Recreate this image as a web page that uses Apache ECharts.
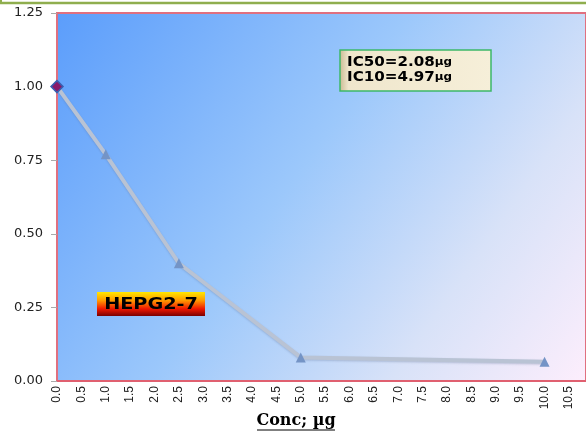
<!DOCTYPE html>
<html><head><meta charset="utf-8">
<script src="https://cdn.jsdelivr.net/npm/echarts@6/dist/echarts.min.js"></script>
<style>html,body{margin:0;padding:0;background:#fff}#c{width:586px;height:433px}</style>
</head><body><div id="c"></div>
<script>
const concX = [0, 1, 2.5, 5, 10];
const viability = [1.00, 0.77, 0.40, 0.08, 0.065];
const yTicks = [0, 0.25, 0.5, 0.75, 1.0, 1.25];
const xAxisTitle = 'Conc; µg';
const ic50Text = 'IC50=2.08';
const ic10Text = 'IC10=4.97';
const unitText = 'µg';
const cellLine = 'HEPG2-7';

const chart = echarts.init(document.getElementById('c'));
const pts = concX.map((x, i) => ({
  value: [x, viability[i]],
  symbol: i === 0 ? 'diamond' : 'triangle',
  symbolSize: i === 0 ? 12 : 10,
  itemStyle: i === 0 ? {color: '#8a1a6a', borderColor: '#3a5fb0', borderWidth: 1.5} : {color: '#7494c6'}
}));
chart.setOption({
  animation: false,
  grid: {left: 57, top: 13, right: -2, bottom: 52, show: true,
    backgroundColor: new echarts.graphic.LinearGradient(0, 0, 1, 1, [
      {offset: 0, color: '#5b9dfb'}, {offset: 0.45, color: '#9cc8fb'}, {offset: 0.75, color: '#d8e2f8'}, {offset: 1, color: '#fdeefc'}]),
    borderColor: '#e07080', borderWidth: 2},
  xAxis: {type: 'value', min: 0, max: 10.85, interval: 0.5,
    axisLine: {show: true, lineStyle: {color: '#e06070', width: 2}},
    axisTick: {show: false},
    splitLine: {show: false},
    axisLabel: {rotate: 90, showMaxLabel: false, fontFamily: 'Liberation Sans Narrow, Liberation Sans', fontSize: 12, color: '#222',
      formatter: v => v.toFixed(1), margin: 5}
  },
  yAxis: {type: 'value', min: 0, max: 1.25, interval: 0.25,
    axisLine: {show: true, lineStyle: {color: '#e07080', width: 2}},
    axisTick: {show: true, length: 6, lineStyle: {color: '#aaa'}},
    splitLine: {show: false},
    axisLabel: {fontFamily: 'DejaVu Sans', fontSize: 13, color: '#222', margin: 14,
      formatter: v => v.toFixed(2)}
  },
  series: [{type: 'line', data: pts,
    lineStyle: {color: '#b9c3d4', width: 4, shadowColor: 'rgba(90,110,150,0.3)', shadowOffsetY: 1, shadowBlur: 2},
    z: 3}],
  graphic: [
    {type: 'line', shape: {x1: 0, y1: 3, x2: 586, y2: 3}, style: {stroke: '#8fae4e', lineWidth: 2.5}},
    {type: 'line', shape: {x1: 1, y1: 0, x2: 1, y2: 4}, style: {stroke: '#8fae4e', lineWidth: 2}},
    {type: 'rect', shape: {x: 340, y: 50, width: 151, height: 41},
      style: {fill: new echarts.graphic.LinearGradient(0, 0, 1, 0, [
        {offset: 0, color: '#c9b890'}, {offset: 0.06, color: '#efe6cc'}, {offset: 1, color: '#f6efd9'}]),
        stroke: '#3cb868', lineWidth: 1.5}, z: 10},
    {type: 'text', x: 347, y: 55, scaleX: 1.08, z: 11, style: {
      text: '{a|' + ic50Text + '}{b|' + unitText + '}\n{a|' + ic10Text + '}{b|' + unitText + '}',
      rich: {a: {fontFamily: 'DejaVu Sans', fontWeight: 'bold', fontSize: 14, color: '#111', lineHeight: 15},
             b: {fontFamily: 'DejaVu Sans', fontWeight: 'bold', fontSize: 11, color: '#111', lineHeight: 15}}}},
    {type: 'rect', shape: {x: 97, y: 292, width: 108, height: 24},
      style: {fill: new echarts.graphic.LinearGradient(0, 0, 0, 1, [
        {offset: 0, color: '#ffe800'}, {offset: 0.35, color: '#ff9a00'}, {offset: 0.7, color: '#f01800'}, {offset: 1, color: '#7a0000'}])}, z: 10},
    {type: 'text', x: 151, y: 305, scaleX: 1.2, z: 11, style: {text: cellLine, align: 'center', verticalAlign: 'middle',
      fontFamily: 'DejaVu Sans', fontWeight: 'bold', fontSize: 16, fill: '#000'}},
    {type: 'text', x: 296, y: 421, z: 11, style: {text: xAxisTitle, align: 'center', verticalAlign: 'middle',
      fontFamily: 'DejaVu Serif', fontWeight: 'bold', fontSize: 16, fill: '#000'}},
    {type: 'line', shape: {x1: 257, y1: 430, x2: 335, y2: 430}, style: {stroke: '#000', lineWidth: 1.2}}
  ]
});
</script></body></html>
